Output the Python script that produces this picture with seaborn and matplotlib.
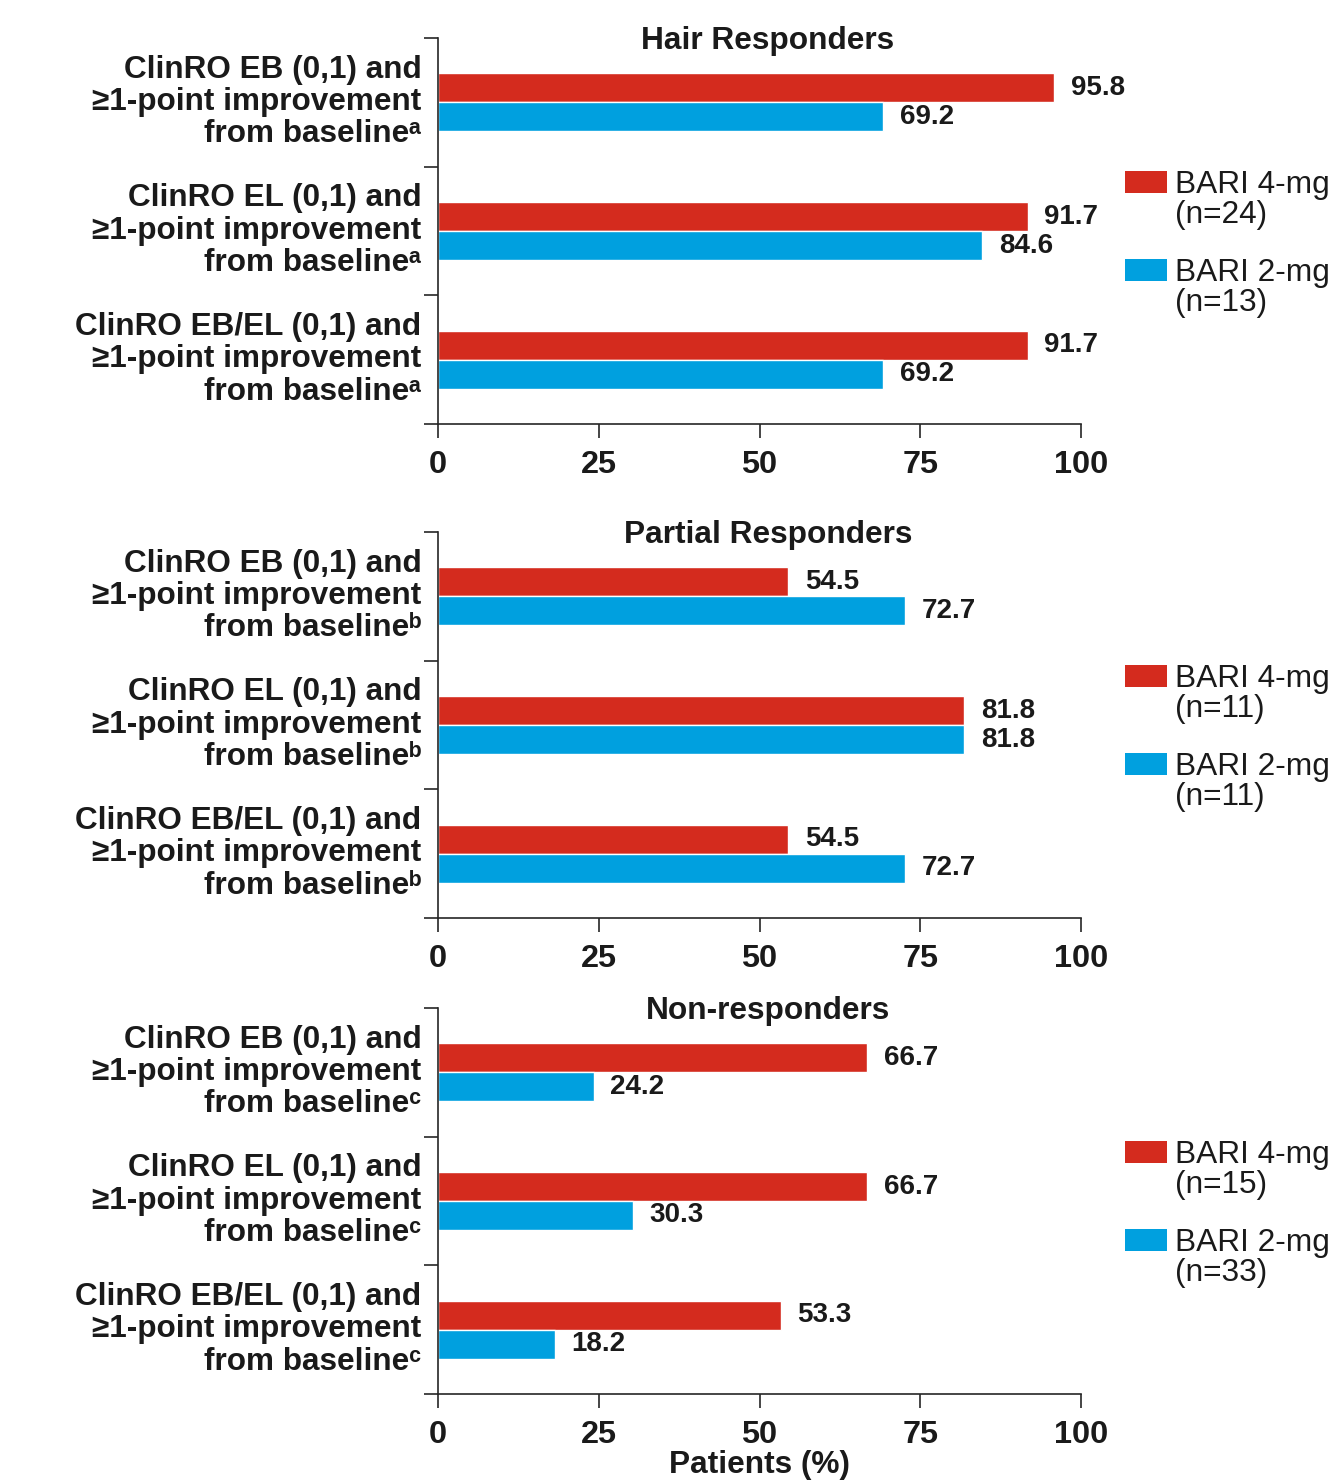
"""
Baricitinib ClinRO eyebrow / eyelash responses by scalp-hair response group
"""

import matplotlib
matplotlib.use("Agg")
import matplotlib.pyplot as plt
import matplotlib.transforms as mtransforms
import pandas as pd
import seaborn as sns

# ===================== Data =====================
PANEL_TITLES = ["Hair Responders", "Partial Responders", "Non-responders"]
FOOTNOTES = ["ᵃ", "ᵇ", "ᶜ"]
ENDPOINTS = ["ClinRO EB (0,1) and", "ClinRO EL (0,1) and", "ClinRO EB/EL (0,1) and"]
DOSES = ["BARI 4-mg", "BARI 2-mg"]

N_4MG = [24, 11, 15]
N_2MG = [13, 11, 33]

HAIR_4MG = [95.8, 91.7, 91.7]
HAIR_2MG = [69.2, 84.6, 69.2]
PARTIAL_4MG = [54.5, 81.8, 54.5]
PARTIAL_2MG = [72.7, 81.8, 72.7]
NON_4MG = [66.7, 66.7, 53.3]
NON_2MG = [24.2, 30.3, 18.2]

XTICKS = [0, 25, 50, 75, 100]

# ===================== Style =====================
COLORS = {"BARI 4-mg": "#D42B1E", "BARI 2-mg": "#00A0DF"}
FONT = ["Liberation Sans", "DejaVu Sans"]
TEXT_COLOR = "#1a1a1a"

sns.set_style("ticks")
plt.rcParams["font.family"] = FONT

# axes boxes in figure fraction (left, bottom, width, height)
AX_LEFT, AX_WIDTH, AX_HEIGHT = 0.3296, 0.4838, 0.2608
AX_BOTTOMS = [0.7135, 0.3797, 0.0581]


def panel_frame(vals_4, vals_2, footnote):
    labels = [f"{ep}\n≥1-point improvement\nfrom baseline{footnote}"
              for ep in ENDPOINTS]
    rows = []
    for lab, v4, v2 in zip(labels, vals_4, vals_2):
        rows.append({"endpoint": lab, "dose": DOSES[0], "pct": v4})
        rows.append({"endpoint": lab, "dose": DOSES[1], "pct": v2})
    return pd.DataFrame(rows), labels


def draw_legend(ax, n4, n2):
    entries = [(DOSES[0], n4, 0.627), (DOSES[1], n2, 0.400)]
    for dose, n, yc in entries:
        ax.add_patch(plt.Rectangle((1.068, yc - 0.0285), 0.0653, 0.057,
                                   transform=ax.transAxes, clip_on=False,
                                   facecolor=COLORS[dose], edgecolor="none"))
        ax.text(1.146, yc + 0.030, f"{dose}\n(n={n})", transform=ax.transAxes,
                ha="left", va="top", fontsize=22.8, color=TEXT_COLOR,
                linespacing=1.0)


fig = plt.figure(figsize=(13.29, 14.8), dpi=100)

panels = [(HAIR_4MG, HAIR_2MG), (PARTIAL_4MG, PARTIAL_2MG), (NON_4MG, NON_2MG)]

# labels sit a little above the group centre in the original
label_shift = mtransforms.ScaledTranslation(0, 0.05, fig.dpi_scale_trans)

for i, (vals_4, vals_2) in enumerate(panels):
    ax = fig.add_axes([AX_LEFT, AX_BOTTOMS[i], AX_WIDTH, AX_HEIGHT])
    df, labels = panel_frame(vals_4, vals_2, FOOTNOTES[i])

    sns.barplot(data=df, y="endpoint", x="pct", hue="dose", order=labels,
                hue_order=DOSES, palette=COLORS, orient="h", width=0.45,
                saturation=1, legend=False, ax=ax)

    for container in ax.containers:
        ax.bar_label(container, fmt="%.1f", padding=12, fontsize=20,
                     fontweight="bold", color=TEXT_COLOR)

    ax.set_xlim(0, 100)
    ax.set_xticks(XTICKS)
    ax.set_ylim(2.5, -0.5)
    ax.set_yticks([-0.5, 0.5, 1.5, 2.5], minor=True)
    ax.tick_params(axis="y", which="major", length=0, pad=12)
    ax.tick_params(axis="y", which="minor", length=10, width=1.2)
    ax.tick_params(axis="x", length=10, width=1.2, pad=9)
    for tick in ax.yaxis.get_major_ticks():
        lab = tick.label1
        lab.set_fontsize(22.7)
        lab.set_fontweight("bold")
        lab.set_linespacing(1.1)
        lab.set_color(TEXT_COLOR)
        lab.set_transform(lab.get_transform() + label_shift)
    for lab in ax.get_xticklabels():
        lab.set_fontsize(23.4)
        lab.set_fontweight("bold")
        lab.set_color(TEXT_COLOR)

    sns.despine(ax=ax)
    for side in ["left", "bottom"]:
        ax.spines[side].set_linewidth(1.2)

    ax.set_ylabel("")
    if i == 2:
        ax.set_xlabel("Patients (%)", fontsize=22.8, fontweight="bold",
                      labelpad=0, color=TEXT_COLOR)
    else:
        ax.set_xlabel("")

    ax.text(0.513, 0.992, PANEL_TITLES[i], transform=ax.transAxes, ha="center",
            va="center", fontsize=22.8, fontweight="bold", color=TEXT_COLOR)

    draw_legend(ax, N_4MG[i], N_2MG[i])

fig.savefig("out.png", dpi=100)
